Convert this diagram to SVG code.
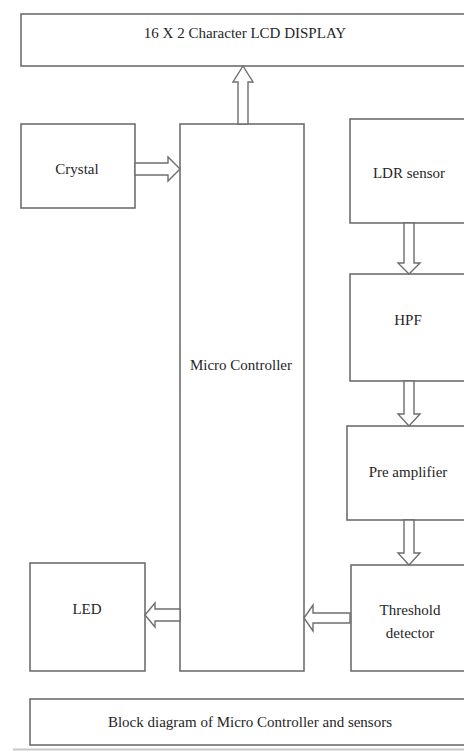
<svg xmlns="http://www.w3.org/2000/svg" width="464" height="752" viewBox="0 0 464 752">
<style>
.box{fill:#ffffff;stroke:#6e6e6e;stroke-width:1.6}
.arr{fill:#ffffff;stroke:#6e6e6e;stroke-width:1.4;stroke-linejoin:miter}
text{font-family:'Liberation Serif','Times New Roman',serif;font-size:15px;fill:#262626;text-anchor:middle}
</style>
<rect x="0" y="0" width="464" height="752" fill="#ffffff"/>
<g id="lcd"><rect class="box" x="21" y="14" width="460" height="52"/><text x="245" y="38">16 X 2 Character LCD DISPLAY</text></g>
<g id="crystal"><rect class="box" x="21" y="124" width="114" height="84"/><text x="77" y="174">Crystal</text></g>
<g id="mc"><rect class="box" x="180" y="124" width="124" height="547"/><text x="241" y="370">Micro Controller</text></g>
<g id="ldr"><rect class="box" x="350" y="119" width="130" height="104"/><text x="409" y="178">LDR sensor</text></g>
<g id="hpf"><rect class="box" x="350" y="274" width="130" height="107"/><text x="408" y="325">HPF</text></g>
<g id="pre"><rect class="box" x="347" y="426" width="133" height="94"/><text x="408" y="477">Pre amplifier</text></g>
<g id="thr"><rect class="box" x="351" y="565" width="129" height="106"/><text x="410" y="615">Threshold</text><text x="410" y="638">detector</text></g>
<g id="led"><rect class="box" x="30" y="563" width="115" height="108"/><text x="87" y="614">LED</text></g>
<g id="caption"><rect class="box" x="30" y="699" width="450" height="46"/><text x="250" y="727">Block diagram of Micro Controller and sensors</text></g>
<g id="connectors">
<polygon class="arr" points="238,124 238,82 233,82 243,66 253,82 248,82 248,124"/>
<polygon class="arr" points="135,163 168,163 168,157 180,169 168,181 168,175 135,175"/>
<polygon class="arr" points="404,223 404,263 398,263 409,274 420,263 414,263 414,223"/>
<polygon class="arr" points="404,381 404,414 398,414 409,426 420,414 414,414 414,381"/>
<polygon class="arr" points="404,520 404,553 398,553 409,565 420,553 414,553 414,520"/>
<polygon class="arr" points="350,613 313,613 313,605 304,618 313,631 313,623 350,623"/>
<polygon class="arr" points="180,609 155,609 155,603 145,615 155,627 155,621 180,621"/>
</g>
<line x1="13" y1="749.5" x2="464" y2="749.5" stroke="#c8c8c8" stroke-width="2"/>
</svg>
